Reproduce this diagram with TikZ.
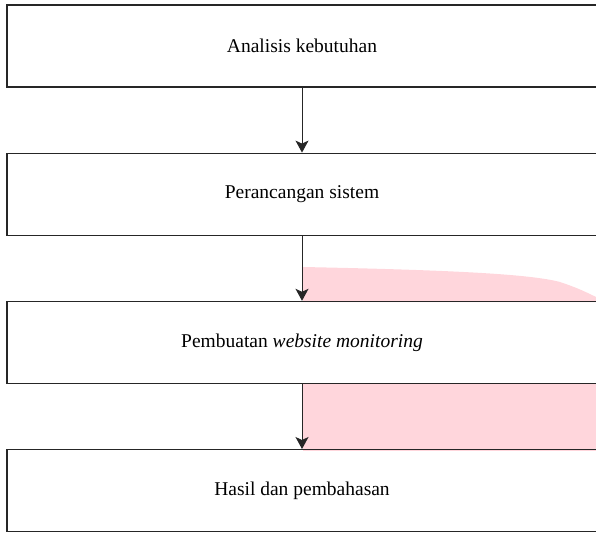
\documentclass[tikz,border=0pt]{standalone}
\usepackage{fontspec}
\setmainfont{Liberation Serif}
\usetikzlibrary{positioning,arrows.meta}
\definecolor{softpink}{RGB}{255,214,220}

\begin{document}
\begin{tikzpicture}[x=1pt,y=1pt,node distance=65pt,flow arrow/.style={-{Stealth[length=12pt,width=13pt,inset=3pt]},line width=1pt,draw=black!85},main node/.style={rectangle,draw=black!85,line width=1.2pt,minimum width=590pt,minimum height=82pt,inner sep=0pt,font=\fontsize{19.5}{23}\selectfont}]
            \useasboundingbox (0,0) rectangle (596,-534);
            \clip (0,0) rectangle (596,-534);

            % pink patches behind the arrows
            \fill[softpink] (303,-267) .. controls (450,-270) and (530,-274) .. (560,-282) .. controls (578,-288) and (588,-293) .. (596,-297) -- (596,-302) -- (303,-302) -- cycle;
            \fill[softpink] (303,-383) rectangle (596,-451);

            \node[main node] (1) at (302,-46) {Analisis kebutuhan};
            \node[main node] (2) [below=of 1] {Perancangan sistem};
            \node[main node] (3) [below=of 2] {Pembuatan \textit{website monitoring}};
            \node[main node] (4) [below=of 3] {Hasil dan pembahasan};

            \draw[flow arrow] (1) -- (2);
            \draw[flow arrow] (2) -- (3);
            \draw[flow arrow] (3) -- (4);
        \end{tikzpicture}
\end{document}
